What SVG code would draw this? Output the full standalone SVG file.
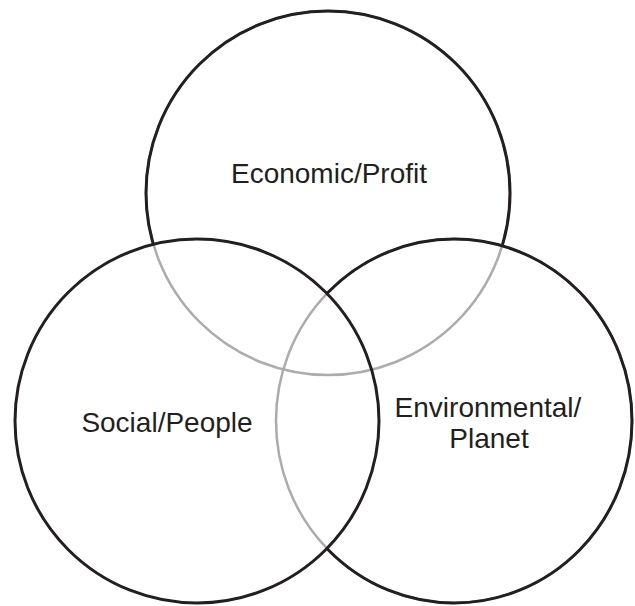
<svg xmlns="http://www.w3.org/2000/svg" width="635" height="606" viewBox="0 0 635 606">
<style>
.blk{fill:none;stroke:#231f20;stroke-width:3}
.gry{fill:none;stroke:#acacac;stroke-width:2.5}
.lbl{font-family:"Liberation Sans",Arial,sans-serif;font-size:28px;fill:#231f20;text-anchor:middle}
</style>
<defs>
<mask id="mTop" maskUnits="userSpaceOnUse" x="0" y="0" width="635" height="606">
<rect x="0" y="0" width="635" height="606" fill="#fff"/>
<circle cx="197" cy="421" r="182" fill="#000"/>
<ellipse cx="454" cy="421" rx="178" ry="182" fill="#000"/>
</mask>
<mask id="mRight" maskUnits="userSpaceOnUse" x="0" y="0" width="635" height="606">
<rect x="0" y="0" width="635" height="606" fill="#fff"/>
<circle cx="197" cy="421" r="182" fill="#000"/>
</mask>
</defs>
<rect width="635" height="606" fill="#fff"/>
<g id="economic">
<circle class="gry" cx="328" cy="193" r="182"/>
<circle class="blk" cx="328" cy="193" r="182" mask="url(#mTop)"/>
<text class="lbl" x="329" y="183">Economic/Profit</text>
</g>
<g id="environmental">
<ellipse class="gry" cx="454" cy="421" rx="178" ry="182"/>
<ellipse class="blk" cx="454" cy="421" rx="178" ry="182" mask="url(#mRight)"/>
<text class="lbl" x="488" y="417">Environmental/</text>
<text class="lbl" x="489" y="448">Planet</text>
</g>
<g id="social">
<circle class="blk" cx="197" cy="421" r="182"/>
<text class="lbl" x="167" y="432">Social/People</text>
</g>
</svg>
